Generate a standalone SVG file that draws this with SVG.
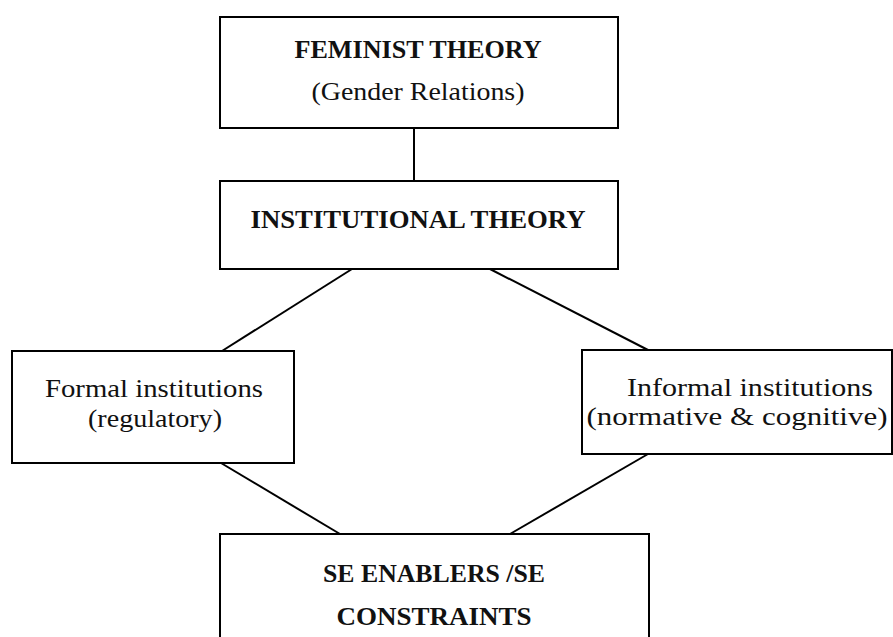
<svg xmlns="http://www.w3.org/2000/svg" width="893" height="637" viewBox="0 0 893 637">
<style>
.box{fill:#fff;stroke:#000;stroke-width:2}
.con line{stroke:#000;stroke-width:2}
text{font-family:"Liberation Serif","Times New Roman",serif;font-size:25px;fill:#111;text-anchor:middle}
.b{font-weight:bold}
</style>
<rect width="893" height="637" fill="#fff"/>
<g id="connectors" class="con">
<line x1="414" y1="128" x2="414" y2="181"/>
<line x1="352" y1="269" x2="222" y2="351"/>
<line x1="490" y1="269" x2="648" y2="350"/>
<line x1="221" y1="463" x2="340" y2="534"/>
<line x1="648" y1="454" x2="510" y2="534"/>
</g>
<g id="feminist">
<rect class="box" x="220" y="17" width="398" height="111"/>
<text class="b" x="418" y="58" textLength="247" lengthAdjust="spacingAndGlyphs">FEMINIST THEORY</text>
<text x="418" y="100" textLength="213" lengthAdjust="spacingAndGlyphs">(Gender Relations)</text>
</g>
<g id="institutional">
<rect class="box" x="220" y="181" width="398" height="88"/>
<text class="b" x="418" y="228" textLength="335" lengthAdjust="spacingAndGlyphs">INSTITUTIONAL THEORY</text>
</g>
<g id="formal">
<rect class="box" x="12" y="351" width="282" height="112"/>
<text x="154" y="397" textLength="218" lengthAdjust="spacingAndGlyphs">Formal institutions</text>
<text x="155" y="427" textLength="134" lengthAdjust="spacingAndGlyphs">(regulatory)</text>
</g>
<g id="informal">
<rect class="box" x="582" y="350" width="310" height="104"/>
<text x="750" y="396" textLength="246" lengthAdjust="spacingAndGlyphs">Informal institutions</text>
<text x="737" y="425" textLength="301" lengthAdjust="spacingAndGlyphs">(normative &amp; cognitive)</text>
</g>
<g id="se">
<rect class="box" x="220" y="534" width="429" height="140"/>
<text class="b" x="434" y="582" textLength="222" lengthAdjust="spacingAndGlyphs">SE ENABLERS /SE</text>
<text class="b" x="434" y="625" textLength="195" lengthAdjust="spacingAndGlyphs">CONSTRAINTS</text>
</g>
</svg>
